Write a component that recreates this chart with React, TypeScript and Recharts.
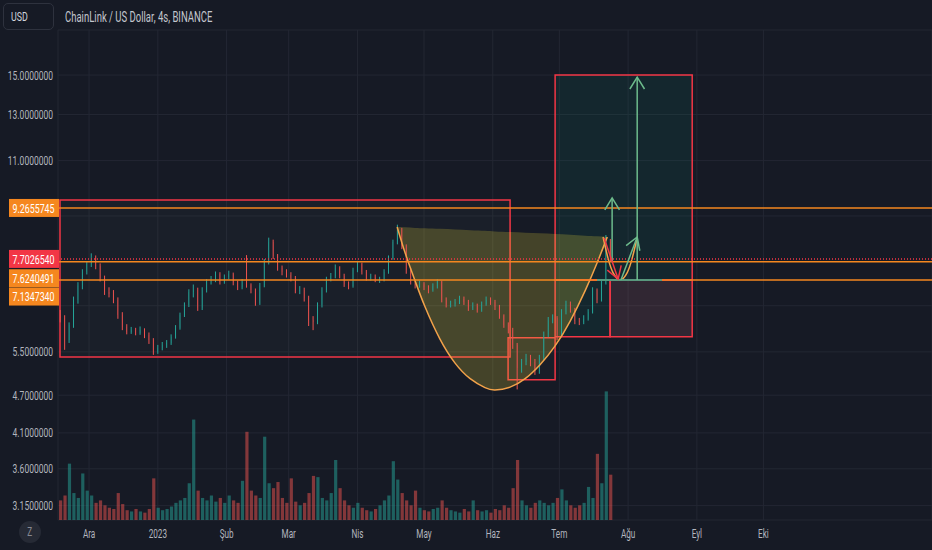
import React from 'react'
import {
  ComposedChart,
  XAxis,
  YAxis,
  CartesianGrid,
  Bar,
  Area,
  Line,
  ReferenceArea,
  ReferenceLine,
} from 'recharts'

// 2 günlük mumlar, gün = 1 Aralık 2022'den itibaren
const firstDay = -13
const firstOpen = 6.3

const closes = [
  6.22, 5.74, 6.06, 6.64, 7.0, 7.35, 7.56, 7.73, 7.51, 7.19,
  6.83, 6.78, 6.64, 6.29, 6.02, 5.91, 5.95, 5.89, 5.95, 5.85,
  5.74, 5.5, 5.58, 5.64, 5.68, 5.81, 6.0, 6.29, 6.52, 6.83,
  6.88, 6.45, 6.88, 7.09, 7.14, 7.29, 7.09, 7.21, 7.29, 7.06,
  6.95, 7.09, 7.0, 6.88, 6.57, 7.0, 7.62, 8.19, 7.78, 7.45,
  7.35, 7.27, 7.19, 6.86, 6.88, 6.69, 6.17, 6.13, 6.52, 6.88,
  7.16, 7.24, 7.45, 7.24, 7.03, 6.98, 7.4, 7.56, 7.35, 7.19,
  7.21, 7.14, 7.16, 7.35, 7.73, 8.19, 8.55, 8.07, 7.4, 7.09,
  7.0, 7.03, 6.95, 6.88, 6.98, 7.09, 6.64, 6.52, 6.54, 6.59,
  6.66, 6.59, 6.45, 6.5, 6.4, 6.54, 6.64, 6.59, 6.47, 6.26,
  6.06, 5.95, 5.64, 5.19, 5.3, 5.38, 5.3, 5.13, 5.38, 5.85,
  6.17, 6.22, 5.83, 6.36, 6.54, 6.4, 6.15, 6.13, 6.2, 6.36,
  6.88, 6.64, 7.06, 8.19, 7.7,
]

const highs = [
  6.4, 6.28, 6.12, 6.72, 7.08, 7.42, 7.64, 7.86, 7.8, 7.58,
  7.25, 6.95, 6.88, 6.7, 6.35, 6.08, 6.02, 6.0, 6.03, 5.99,
  5.9, 5.78, 5.64, 5.7, 5.74, 5.86, 6.06, 6.34, 6.58, 6.9,
  7.02, 6.94, 6.95, 7.16, 7.24, 7.36, 7.34, 7.28, 7.38, 7.33,
  7.12, 7.16, 7.81, 7.05, 6.92, 7.06, 7.7, 8.32, 8.26, 7.84,
  7.52, 7.42, 7.34, 7.24, 6.98, 6.94, 6.74, 6.26, 6.58, 6.95,
  7.22, 7.32, 7.55, 7.5, 7.3, 7.1, 7.46, 7.64, 7.6, 7.4,
  7.3, 7.28, 7.22, 7.42, 7.8, 8.26, 8.72, 8.62, 8.12, 7.46,
  7.16, 7.12, 7.08, 7.0, 7.05, 7.16, 7.12, 6.7, 6.62, 6.66,
  6.74, 6.72, 6.64, 6.58, 6.55, 6.6, 6.72, 6.7, 6.64, 6.52,
  6.3, 6.12, 6.0, 5.68, 5.36, 5.46, 5.44, 5.36, 5.44, 5.92,
  6.24, 6.3, 6.26, 6.42, 6.62, 6.6, 6.45, 6.22, 6.28, 6.42,
  6.95, 6.92, 7.14, 8.4, 8.28,
]

const lows = [
  6.12, 5.54, 5.68, 6.0, 6.55, 6.9, 7.28, 7.48, 7.42, 7.1,
  6.76, 6.7, 6.56, 6.2, 5.95, 5.86, 5.87, 5.84, 5.85, 5.78,
  5.66, 5.44, 5.46, 5.53, 5.58, 5.64, 5.77, 5.96, 6.24, 6.47,
  6.7, 6.38, 6.4, 6.82, 7.02, 7.08, 7.02, 7.04, 7.15, 7.0,
  6.88, 6.9, 6.94, 6.8, 6.5, 6.52, 6.95, 7.55, 7.7, 7.38,
  7.26, 7.2, 7.1, 6.8, 6.78, 6.6, 6.04, 5.95, 6.08, 6.46,
  6.82, 7.1, 7.18, 7.18, 6.96, 6.9, 6.94, 7.34, 7.28, 7.12,
  7.12, 7.08, 7.06, 7.1, 7.3, 7.68, 8.12, 7.98, 7.3, 7.02,
  6.92, 6.94, 6.88, 6.8, 6.84, 6.92, 6.58, 6.46, 6.46, 6.48,
  6.54, 6.52, 6.38, 6.4, 6.34, 6.36, 6.5, 6.52, 6.4, 6.2,
  6.0, 5.88, 5.56, 4.8, 5.1, 5.24, 5.22, 5.06, 5.08, 5.34,
  5.8, 6.1, 5.74, 5.8, 6.3, 6.34, 6.08, 6.06, 6.08, 6.16,
  6.32, 6.56, 6.6, 7.02, 7.62,
]

// hacim, milyon LINK
const volumes = [
  1.6, 2.0, 4.6, 2.2, 1.8, 3.8, 2.4, 2.0, 1.4, 1.6,
  1.2, 1.0, 0.9, 2.2, 1.3, 0.8, 0.7, 0.9, 0.7, 0.6,
  0.9, 3.4, 1.0, 0.8, 0.9, 1.1, 1.4, 1.6, 1.8, 3.0,
  8.2, 2.4, 1.8, 1.6, 2.0, 1.5, 1.8, 1.4, 2.0, 1.6,
  1.4, 3.2, 7.2, 2.4, 2.0, 1.8, 6.8, 3.0, 2.6, 3.1,
  1.8, 1.4, 3.4, 1.5, 1.2, 1.4, 2.2, 3.6, 3.5, 1.8,
  1.6, 2.2, 4.9, 2.6, 1.6, 1.2, 1.0, 1.4, 1.0, 0.8,
  0.7, 0.9, 1.2, 1.6, 2.0, 4.8, 3.3, 2.2, 1.6, 1.2,
  2.4, 1.0, 0.8, 0.7, 0.9, 1.0, 1.6, 1.0, 0.8, 0.7,
  0.6, 0.9, 0.7, 1.6, 0.8, 0.7, 0.8, 0.6, 0.9, 0.8,
  1.2, 1.0, 2.6, 4.9, 1.6, 1.2, 1.0, 1.4, 1.6, 1.4,
  1.2, 1.4, 1.8, 2.5, 1.6, 1.2, 1.0, 1.2, 1.4, 2.7,
  1.8, 5.4, 3.0, 10.5, 3.7,
]

const monthTicks = [0, 31, 62, 90, 121, 151, 182, 212, 243, 274, 304]
const monthLabels = ['Ara', '2023', 'Şub', 'Mar', 'Nis', 'May', 'Haz', 'Tem', 'Ağu', 'Eyl', 'Eki']
const priceTicks = [15, 13, 11, 9, 6.5, 5.5, 4.7, 4.1, 3.6, 3.15]
// etiketlerin altında kalan tikler
const hiddenTicks = [9, 6.5]

// fincan (cup) çizimi
const cupDays = [138.9, 142.5, 147, 151.5, 158.2, 165, 171.8, 178.5, 183, 189.8, 196.6, 203.3, 210.1, 216.9, 223.6, 229, 233.6]
const cupLow = [8.65, 7.87, 7.11, 6.47, 5.76, 5.28, 4.99, 4.83, 4.79, 4.84, 4.99, 5.25, 5.62, 6.15, 6.86, 7.59, 8.34]
const cupRim = [8.65, 8.64, 8.62, 8.61, 8.59, 8.57, 8.55, 8.53, 8.51, 8.49, 8.47, 8.45, 8.43, 8.41, 8.38, 8.36, 8.34]

// kulp (handle)
const handleDays = [231.7, 234, 236.2, 239.4, 242.6, 244.8, 247.1]
const handlePrices = [8.34, 7.71, 7.33, 7.14, 7.33, 7.71, 8.31]

const BG = '#161a25'
const GRID = '#232733'
const TXT = '#b2b5be'
const UP = '#26a69a'
const DOWN = '#ef5350'
const ORANGE = '#f5871f'
const RED = '#f23645'
const GREEN = '#6dbb8c'
const CUP = '#f2a24a'
const SQ = 0.68 // ekran görüntüsü yatayda sıkıştırılmış

const candles = closes.map((c, i) => ({
  d: firstDay + i * 2,
  open: i === 0 ? firstOpen : closes[i - 1],
  close: c,
  high: highs[i],
  low: lows[i],
  vol: volumes[i],
}))

const cupData = cupDays.map((d, i) => ({ d, low: cupLow[i], rim: cupRim[i] }))
const handleData = handleDays.map((d, i) => ({ d, p: handlePrices[i] }))

function Candle(props: any) {
  const { x, y, width, height, payload } = props
  const top = Math.min(y, y + height)
  const span = Math.abs(height)
  const lh = Math.log(payload.high)
  const ll = Math.log(payload.low)
  const pos = (v: number) => top + (span * (lh - Math.log(v))) / (lh - ll)
  const cx = x + width / 2
  const color = payload.close >= payload.open ? UP : DOWN
  const yo = pos(payload.open)
  const yc = pos(payload.close)
  return (
    <g>
      <line x1={cx} x2={cx} y1={top} y2={top + span} stroke={color} strokeWidth={1} />
      <rect x={x} y={Math.min(yo, yc)} width={width} height={Math.max(1, Math.abs(yo - yc))} fill={color} />
    </g>
  )
}

function VolBar(props: any) {
  const { x, y, width, height, payload } = props
  const up = payload.close >= payload.open
  return (
    <rect
      x={x}
      y={y}
      width={width}
      height={height}
      fill={up ? 'rgba(38,166,154,0.5)' : 'rgba(239,83,80,0.5)'}
    />
  )
}

function PriceTick({ x, y, payload }: any) {
  if (hiddenTicks.includes(payload.value)) return null
  return (
    <g transform={`translate(${x},${y})`}>
      <text transform={`scale(${SQ},1)`} textAnchor="end" dy="0.36em" fill={TXT} fontSize={12.5} fontFamily="Roboto">
        {Number(payload.value).toFixed(7)}
      </text>
    </g>
  )
}

function MonthTick({ x, y, payload }: any) {
  const idx = monthTicks.indexOf(payload.value)
  return (
    <g transform={`translate(${x},${y})`}>
      <text transform={`scale(${SQ},1)`} textAnchor="middle" dy="0.71em" fill={TXT} fontSize={12} fontFamily="Roboto">
        {monthLabels[idx]}
      </text>
    </g>
  )
}

// fiyat ekseni üzerindeki renkli etiket
function AxisLabel({ viewBox, value, color, shift = 0 }: any) {
  const cy = viewBox.y + shift
  return (
    <g>
      <rect x={9} y={cy - 9} width={50} height={18} fill={color} />
      <g transform={`translate(33.5,${cy})`}>
        <text transform={`scale(${SQ},1)`} textAnchor="middle" dy="0.36em" fill="#ffffff" fontSize={13} fontFamily="Roboto">
          {value.toFixed(7)}
        </text>
      </g>
    </g>
  )
}

// ok çizimi (açık uçlu ok başı)
const arrow = (color: string) => (p: any) => {
  const { x1, y1, x2, y2 } = p
  const a = Math.atan2(y2 - y1, x2 - x1)
  const L = 14
  const s = 0.55
  const ax = x2 - L * Math.cos(a - s)
  const ay = y2 - L * Math.sin(a - s)
  const bx = x2 - L * Math.cos(a + s)
  const by = y2 - L * Math.sin(a + s)
  return (
    <g>
      <line x1={x1} y1={y1} x2={x2} y2={y2} stroke={color} strokeWidth={1.5} />
      <polyline points={`${ax},${ay} ${x2},${y2} ${bx},${by}`} fill="none" stroke={color} strokeWidth={1.5} />
    </g>
  )
}

export default function App() {
  return (
    <div
      style={{
        position: 'fixed',
        left: 0,
        top: 0,
        width: 932,
        height: 550,
        background: BG,
        overflow: 'hidden',
        fontFamily: 'Roboto',
      }}
    >
      <ComposedChart
        width={932}
        height={550}
        data={candles}
        margin={{ top: 30, right: 0, bottom: 0, left: 0 }}
      >
        <CartesianGrid stroke={GRID} strokeWidth={1} />
        <XAxis
          dataKey="d"
          type="number"
          domain={[-14, 380]}
          allowDataOverflow
          ticks={monthTicks}
          interval={0}
          height={30}
          axisLine={false}
          tickLine={false}
          tickSize={0}
          tickMargin={9}
          tick={<MonthTick />}
        />
        <XAxis xAxisId="v" dataKey="d" type="number" domain={[-14, 380]} allowDataOverflow hide />
        <YAxis
          scale="log"
          type="number"
          domain={[2.99, 17.66]}
          allowDataOverflow
          ticks={priceTicks}
          interval={0}
          width={58}
          axisLine={false}
          tickLine={false}
          tickSize={0}
          tickMargin={5}
          tick={<PriceTick />}
        />
        <YAxis yAxisId="vol" type="number" domain={[0, 40]} allowDataOverflow hide />

        <Bar
          dataKey="vol"
          xAxisId="v"
          yAxisId="vol"
          barSize={3.2}
          shape={<VolBar />}
          isAnimationActive={false}
        />

        {/* sol dikdörtgenler */}
        <ReferenceArea x1={-13.1} x2={189.8} y1={5.4} y2={9.54} fill="rgba(120,130,120,0.1)" stroke={RED} strokeWidth={1.5} />
        <ReferenceArea x1={188.9} x2={210.1} y1={4.97} y2={5.79} fill="rgba(120,130,120,0.08)" stroke={RED} strokeWidth={1.5} />
        {/* uzun pozisyon: hedef ve stop */}
        <ReferenceArea x1={210.1} x2={271.9} y1={7.134734} y2={15} fill="rgba(8,153,129,0.2)" stroke={RED} strokeWidth={1.5} />
        <ReferenceArea x1={210.1} x2={234.9} y1={5.81} y2={7.134734} fill="rgba(8,153,129,0.2)" stroke={RED} strokeWidth={1.5} />
        <ReferenceArea x1={234.9} x2={271.9} y1={5.81} y2={7.134734} fill="rgba(190,110,125,0.32)" stroke={RED} strokeWidth={1.5} />

        <Area
          data={cupData}
          dataKey={(e: any) => [e.low, e.rim]}
          type="natural"
          stroke="none"
          fill="rgba(255,235,59,0.2)"
          fillOpacity={1}
          isAnimationActive={false}
        />

        <Bar
          dataKey={(e: any) => [e.low, e.high]}
          barSize={3.4}
          shape={<Candle />}
          isAnimationActive={false}
        />

        <Line data={cupData} dataKey="low" type="natural" stroke={CUP} strokeWidth={1.5} dot={false} isAnimationActive={false} />
        <Line data={handleData} dataKey="p" type="natural" stroke={CUP} strokeWidth={1.5} dot={false} isAnimationActive={false} />

        <ReferenceLine y={9.2655745} stroke={ORANGE} strokeWidth={1.5} label={<AxisLabel value={9.2655745} color={ORANGE} />} />
        <ReferenceLine y={7.6240491} stroke={ORANGE} strokeWidth={1.5} label={<AxisLabel value={7.6240491} color={ORANGE} shift={16.5} />} />
        <ReferenceLine y={7.134734} stroke={ORANGE} strokeWidth={1.5} label={<AxisLabel value={7.134734} color={ORANGE} shift={16.5} />} />
        <ReferenceLine y={7.702654} stroke={RED} strokeWidth={1.5} strokeDasharray="1 2" label={<AxisLabel value={7.702654} color={RED} />} />
        <ReferenceLine segment={[{ x: 229, y: 7.134734 }, { x: 258.3, y: 7.134734 }]} stroke={UP} strokeWidth={1.5} />

        <ReferenceLine segment={[{ x: 247.1, y: 7.134734 }, { x: 247.1, y: 14.89 }]} shape={arrow(GREEN)} />
        <ReferenceLine segment={[{ x: 235.8, y: 7.6240491 }, { x: 235.8, y: 9.61 }]} shape={arrow(GREEN)} />
        <ReferenceLine segment={[{ x: 239.8, y: 7.14 }, { x: 247.1, y: 8.34 }]} shape={arrow(GREEN)} />
        <ReferenceLine segment={[{ x: 232.2, y: 8.31 }, { x: 238.5, y: 7.16 }]} shape={arrow(RED)} />
      </ComposedChart>

      {/* başlık */}
      <div
        style={{
          position: 'absolute',
          left: 3,
          top: 3,
          width: 51,
          height: 27,
          border: '1px solid #2e323e',
          borderRadius: 5,
          boxSizing: 'border-box',
        }}
      >
        <span
          style={{
            position: 'absolute',
            left: 7,
            top: 5,
            fontSize: 13,
            color: '#d1d4dc',
            transform: `scaleX(${SQ})`,
            transformOrigin: 'left',
            whiteSpace: 'nowrap',
          }}
        >
          USD
        </span>
      </div>
      <div
        style={{
          position: 'absolute',
          left: 65,
          top: 9,
          fontSize: 14,
          color: '#c3c6ce',
          transform: `scaleX(${SQ})`,
          transformOrigin: 'left',
          whiteSpace: 'nowrap',
        }}
      >
        ChainLink / US Dollar, 4s, BINANCE
      </div>
      <div
        style={{
          position: 'absolute',
          left: 19,
          top: 521,
          width: 22,
          height: 22,
          borderRadius: 11,
          background: '#262a35',
          color: '#868993',
          fontSize: 12,
          textAlign: 'center',
          lineHeight: '22px',
        }}
      >
        <span style={{ display: 'inline-block', transform: `scaleX(${SQ})` }}>Z</span>
      </div>
    </div>
  )
}
